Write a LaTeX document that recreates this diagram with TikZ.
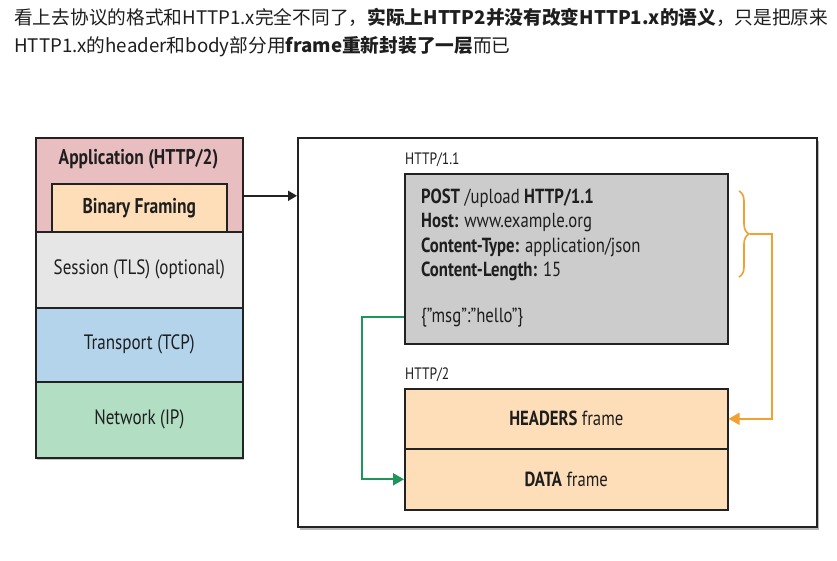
\documentclass[tikz,border=0pt]{standalone}
\usepackage{fontspec}
\setmainfont{PT Sans}[FakeStretch=0.82]
\newfontfamily\cjk{Noto Sans CJK SC}
\usetikzlibrary{shadows,arrows.meta,decorations.pathreplacing,calc}
\definecolor{apppink}{RGB}{233,190,192}
\definecolor{peach}{RGB}{253,222,184}
\definecolor{sessgray}{RGB}{230,230,230}
\definecolor{tcpblue}{RGB}{180,212,236}
\definecolor{ipgreen}{RGB}{178,222,196}
\definecolor{boxgray}{RGB}{204,204,204}
\definecolor{edge}{RGB}{34,34,34}
\definecolor{orangeln}{RGB}{242,160,50}
\definecolor{greenln}{RGB}{30,150,90}
\definecolor{txt}{RGB}{30,30,30}
\tikzset{
  layer/.style={draw=edge, line width=1.6pt, anchor=north west, inner sep=0pt},
  lbl/.style={text=txt, font=\fontsize{20.8}{24}\selectfont, inner sep=0pt},
  blbl/.style={text=txt, font=\bfseries\fontsize{21.3}{24}\selectfont, inner sep=0pt},
  rlbl/.style={text=txt, font=\fontsize{20.4}{24.2}\selectfont, inner sep=0pt},
  small/.style={text=txt, font=\fontsize{16.5}{19}\selectfont, inner sep=0pt, anchor=west},
  hdr/.style={text=txt, font=\cjk\fontsize{18.7}{22}\selectfont, inner sep=0pt, anchor=west},
  conn/.style={line width=1.8pt},
}
\begin{document}
\begin{tikzpicture}[x=1pt,y=-1pt]
\useasboundingbox[fill=white] (0,0) rectangle (837,560);
% header text
\node[hdr] (l1) at (14,17) {看上去协议的格式和HTTP1.x完全不同了，\textbf{实际上HTTP2并没有改变HTTP1.x的语义}，只是把原来};
\node[hdr] (l2) at (14,47) {HTTP1.x的header和body部分用\textbf{frame重新封装了一层}而已};
% left stack
\node[layer, fill=apppink, minimum width=207pt, minimum height=94pt, drop shadow={shadow xshift=1pt, shadow yshift=-2pt, opacity=0.35}] (app) at (35,137) {};
\node[layer, fill=sessgray, minimum width=207pt, minimum height=76pt] (sess) at (35,231) {};
\node[layer, fill=tcpblue, minimum width=207pt, minimum height=74pt] (tcp) at (35,307) {};
\node[layer, fill=ipgreen, minimum width=207pt, minimum height=76pt, drop shadow={shadow xshift=1pt, shadow yshift=-2pt, opacity=0.45}] (ip) at (35,381) {};
\node[layer, fill=peach, minimum width=175pt, minimum height=48pt] (frm) at (51,183) {};
\node[blbl] (applbl) at (138.5,159) {Application (HTTP/2)};
\node[blbl] (frmlbl) at (frm.center) {Binary Framing};
\node[lbl] (sesslbl) at (sess.center) {Session (TLS) (optional)};
\node[lbl] (tcplbl) at (tcp.center) {Transport (TCP)};
\node[lbl] (iplbl) at (ip.center) {Network (IP)};
% right panel
\node[layer, fill=white, minimum width=519pt, minimum height=389pt, drop shadow={shadow xshift=2.5pt, shadow yshift=-3pt, opacity=0.55}] (outer) at (297,137) {};
\coordinate (as) at ([yshift=-11pt]app.east);
\draw[conn, -{Triangle[length=9pt,width=10pt]}, edge] (as) -- (outer.west |- as);
\node[small] (h11) at (405,160) {HTTP/1.1};
\node[layer, fill=boxgray, minimum width=323pt, minimum height=170pt] (req) at (404,173) {};
\node[rlbl, anchor=north west, align=left] (reqtxt) at (421,189) {\textbf{POST} /upload \textbf{HTTP/1.1}\\ \textbf{Host:} www.example.org\\ \textbf{Content-Type:} application/json\\ \textbf{Content-Length:} 15};
\node[rlbl, anchor=west] (body) at (421,318) {\{”msg”:”hello”\}};
\node[small] (h2) at (405,375) {HTTP/2};
\node[layer, fill=peach, minimum width=323pt, minimum height=60pt] (headers) at (404,388) {};
\node[layer, fill=peach, minimum width=323pt, minimum height=61pt] (data) at (404,448) {};
\node[rlbl] (hdrlbl) at (headers.center) {\textbf{HEADERS} frame};
\node[rlbl] (datalbl) at (data.center) {\textbf{DATA} frame};
% brace and orange connector
\draw[orangeln, line width=1.6pt, decorate, decoration={brace, amplitude=10pt}] (739,191) -- (739,277);
\coordinate (brtip) at (750,234);
\draw[conn, orangeln, -{Triangle[length=11pt,width=12pt]}] (brtip) -- (772,234) |- (headers.east);
% green connector
\coordinate (gs) at (404,317);
\draw[conn, greenln, -{Triangle[length=11pt,width=12pt]}] (gs) -- (362,317) |- (data.west);
\end{tikzpicture}
\end{document}
